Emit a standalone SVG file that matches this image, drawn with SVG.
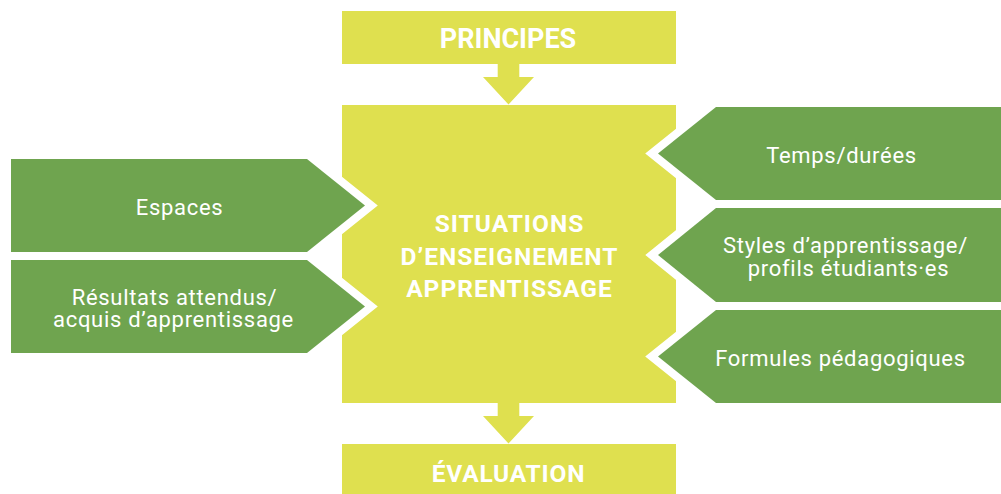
<svg xmlns="http://www.w3.org/2000/svg" width="1001" height="494" viewBox="0 0 1001 494">
<style>
.y{fill:#DFE04F}
.g{fill:#6FA44F;stroke:#FFFFFF;stroke-width:16;stroke-linejoin:miter;stroke-miterlimit:10;paint-order:stroke}
.tb{font-family:Roboto,"Liberation Sans",sans-serif;font-weight:bold;fill:#FFFFFF;text-anchor:middle}
.tr{font-family:Roboto,"Liberation Sans",sans-serif;font-size:22px;letter-spacing:0.7px;fill:#FFFFFF;text-anchor:middle}
</style>
<rect width="1001" height="494" fill="#FFFFFF"/>
<g id="principes">
<rect class="y" x="342" y="11" width="334" height="53"/>
<text class="tb" x="508" y="47.5" font-size="27">PRINCIPES</text>
</g>
<g id="situations">
<rect class="y" x="342" y="105" width="334" height="298"/>
<text class="tb" x="509.5" y="232" font-size="24.5" letter-spacing="1">SITUATIONS</text>
<text class="tb" x="509.5" y="264.5" font-size="24.5" letter-spacing="1">D’ENSEIGNEMENT</text>
<text class="tb" x="509.5" y="297" font-size="24.5" letter-spacing="1">APPRENTISSAGE</text>
</g>
<g id="evaluation">
<rect class="y" x="342" y="444" width="334" height="50"/>
<text class="tb" x="508.5" y="482.3" font-size="24.5" letter-spacing="0.8">ÉVALUATION</text>
</g>
<g id="connectors">
<polygon class="y" points="497.7,64 519.3,64 519.3,77 534,77 508.5,104.5 483,77 497.7,77"/>
<polygon class="y" points="497.7,403 519.3,403 519.3,416 534,416 508.5,443.5 483,416 497.7,416"/>
</g>
<g id="espaces">
<polygon class="g" points="11,159 307,159 365,205.5 307,252 11,252"/>
<text class="tr" x="179.5" y="215">Espaces</text>
</g>
<g id="resultats">
<polygon class="g" points="11,260 307,260 365,306.5 307,353 11,353"/>
<text class="tr" x="174.5" y="304.5">Résultats attendus/</text>
<text class="tr" x="173.5" y="327">acquis d’apprentissage</text>
</g>
<g id="temps">
<polygon class="g" points="1001,107 716,107 658,153.5 716,200 1001,200"/>
<text class="tr" x="841.5" y="163.3">Temps/durées</text>
</g>
<g id="styles">
<polygon class="g" points="1001,208 716,208 658,255 716,302 1001,302"/>
<text class="tr" x="845.5" y="252.8">Styles d’apprentissage/</text>
<text class="tr" x="848.5" y="276">profils étudiants·es</text>
</g>
<g id="formules">
<polygon class="g" points="1001,310 716,310 658,356.5 716,403 1001,403"/>
<text class="tr" x="840.5" y="365.7">Formules pédagogiques</text>
</g>
</svg>
